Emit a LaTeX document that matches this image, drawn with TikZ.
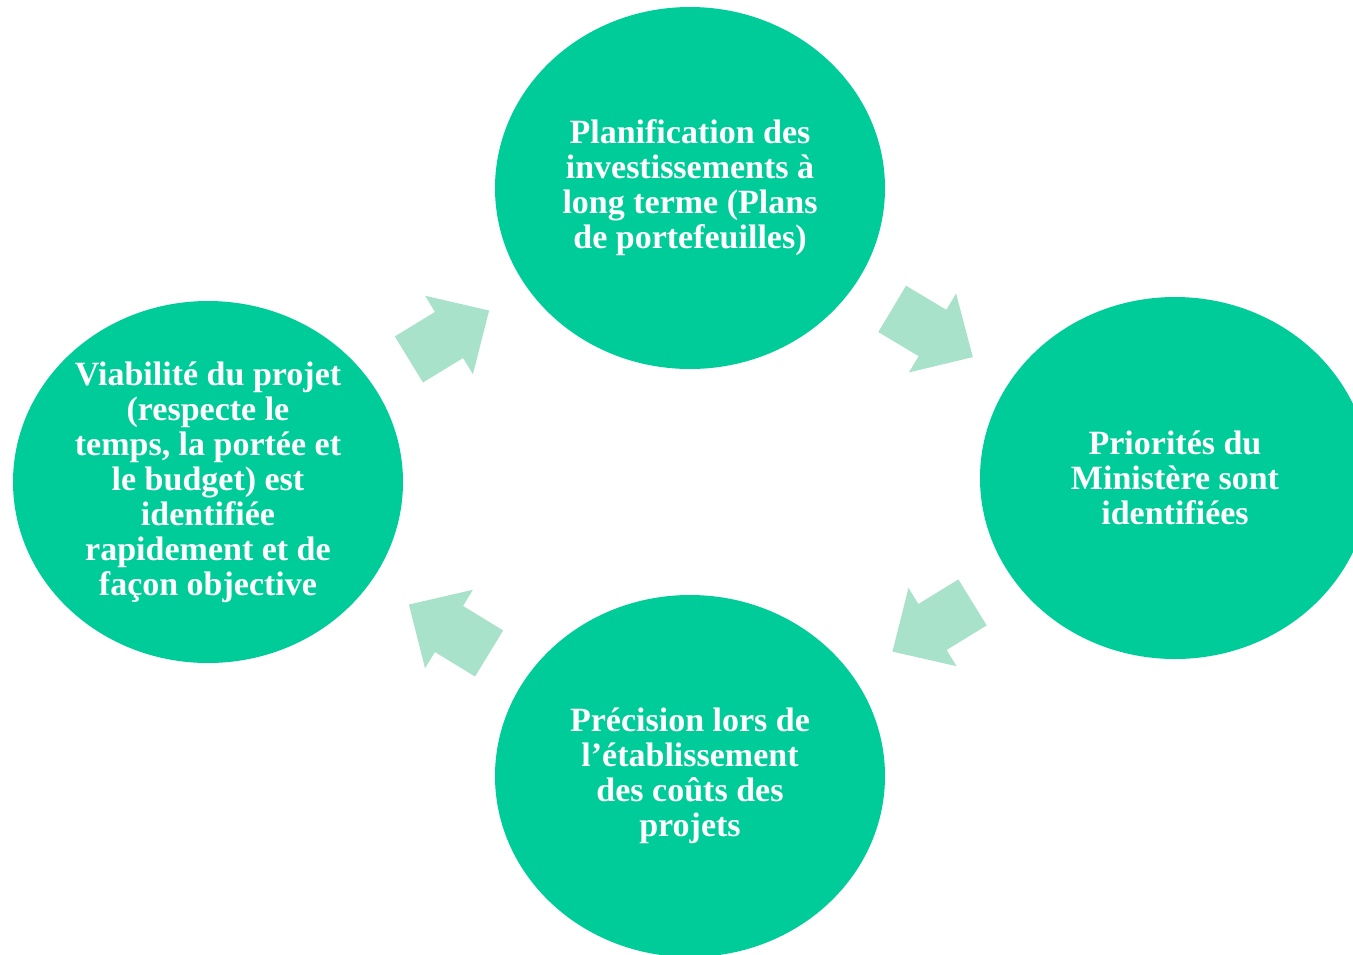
\documentclass[tikz,border=0pt]{standalone}
\usepackage{fontspec}
\setmainfont{Liberation Serif}
\usetikzlibrary{shapes.geometric,calc}
\definecolor{vert}{HTML}{00CC99}
\definecolor{vertpale}{HTML}{A9E2CA}
\tikzset{
etape/.style={ellipse, fill=vert, minimum width=390pt, minimum height=362pt, inner sep=0pt,
  align=center, text=white, font=\fontsize{34}{35}\selectfont\bfseries},
fleche/.pic={\fill[vertpale] (-47,-27) -- (0,-27) -- (0,-46) -- (47,0) -- (0,46) -- (0,27) -- (-47,27) -- cycle;}
}
\begin{document}
\begin{tikzpicture}[x=1pt,y=1pt]
\useasboundingbox (0,0) rectangle (1353,-954);
\node[etape] (plan) at (690,-188) {Planification des\\investissements à\\long terme (Plans\\de portefeuilles)};
\node[etape] (prio) at (1175,-478) {Priorités du\\Ministère sont\\identifiées};
\node[etape] (prec) at (690,-776) {Précision lors de\\l’établissement\\des coûts des\\projets};
\node[etape] (viab) at (208,-482) {Viabilité du projet\\(respecte le\\temps, la portée et\\le budget) est\\identifiée\\rapidement et de\\façon objective};
\foreach \a/\b in {viab/plan,plan/prio,prio/prec,prec/viab}
{
\path let \p1=($(\b)-(\a)$), \n1={atan2(\y1,\x1)} in ($(\a)!0.5!(\b)$) pic[rotate=\n1] {fleche};
}
\end{tikzpicture}
\end{document}
